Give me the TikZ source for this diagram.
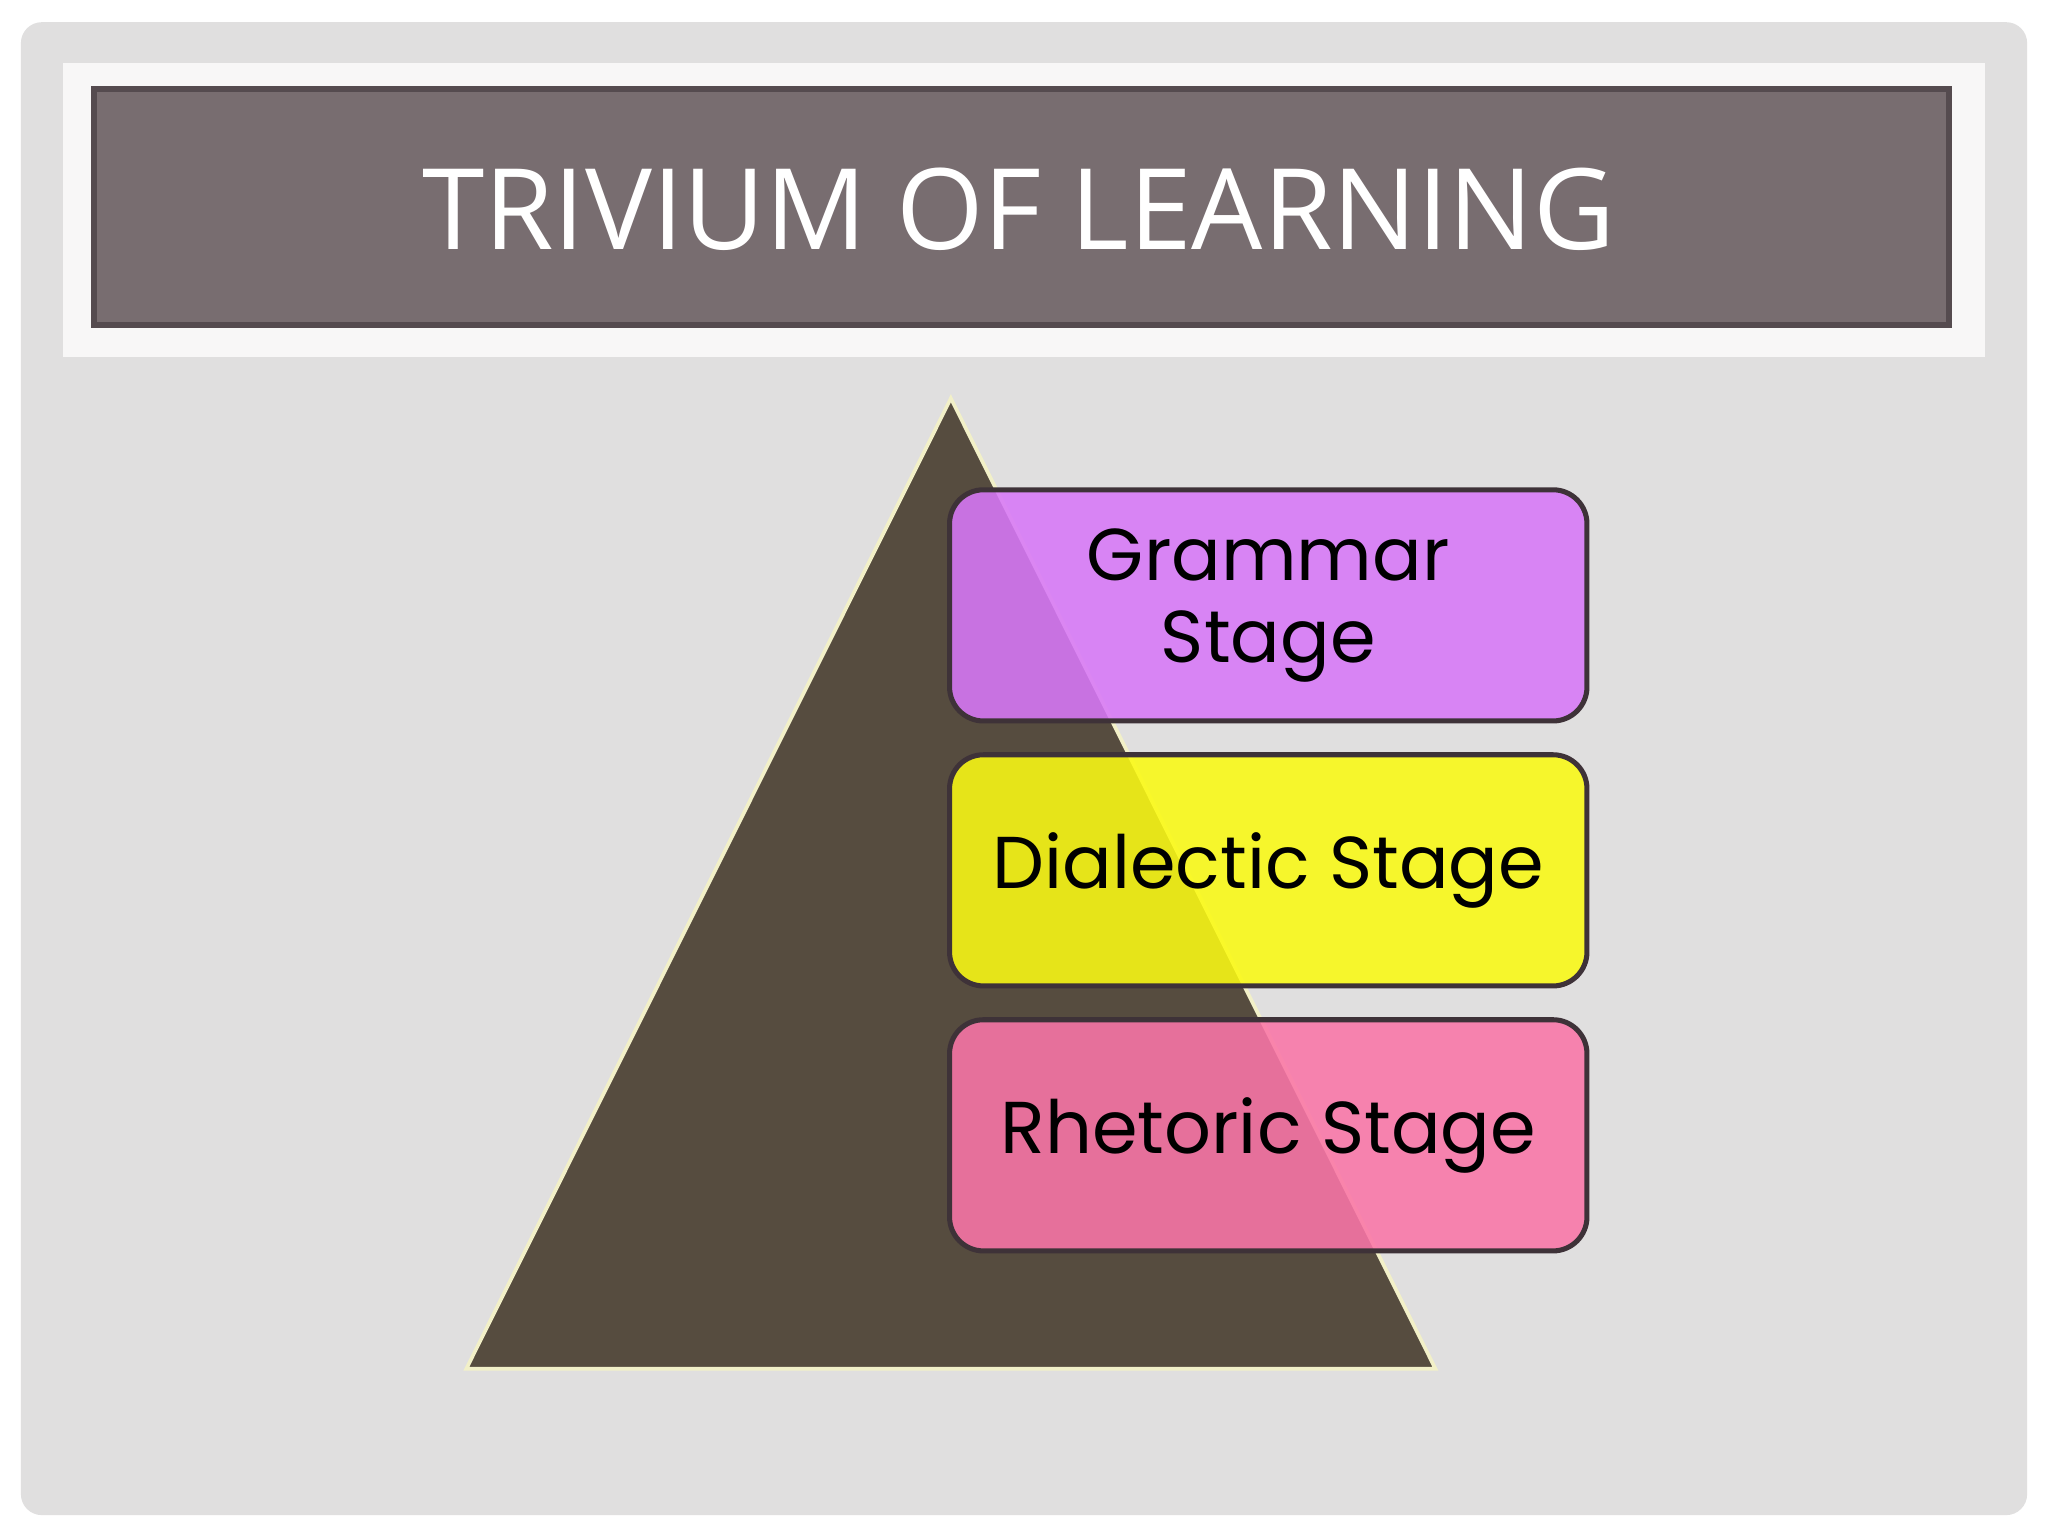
\documentclass[tikz,border=0pt]{standalone}
\usepackage{fontspec}
\setmainfont{Poppins}
\newfontfamily\titlefont{Open Sans}
\usetikzlibrary{positioning}

\definecolor{panelgray}{HTML}{E0DFDF}
\definecolor{framewhite}{HTML}{F8F7F7}
\definecolor{titlefill}{HTML}{786D70}
\definecolor{titleline}{HTML}{554B4F}
\definecolor{pyramid}{HTML}{564C3F}
\definecolor{pyrline}{HTML}{F2F0C8}
\definecolor{grammarc}{HTML}{D878F8}
\definecolor{dialectc}{HTML}{FAFA14}
\definecolor{rhetoricc}{HTML}{FA76A8}
\definecolor{boxline}{HTML}{3E3238}

\tikzset{
  stagebox/.style={draw=boxline, line width=1.1pt, rounded corners=0.26cm,
    minimum width=4.88cm, minimum height=1.77cm, fill opacity=0.88,
    text opacity=1, align=center, inner sep=0pt,
    font=\fontsize{16}{18}\selectfont},
}

\begin{document}
\begin{tikzpicture}
% page and panel
\useasboundingbox (0,0) rectangle (15.68,-11.76);
\fill[white] (0,0) rectangle (15.68,-11.76);
\fill[panelgray, rounded corners=0.16cm] (0.16,-0.17) rectangle (15.52,-11.60);
\fill[framewhite] (0.48,-0.48) rectangle (15.20,-2.73);

% title bar
\draw[titleline, line width=1.2pt, fill=titlefill] (0.72,-0.68) rectangle (14.92,-2.49);
\node[text=white, font=\titlefont\fontsize{24.5}{28}\selectfont] (title) at (7.80,-1.60) {TRIVIUM OF LEARNING};

% pyramid
\coordinate (apex) at (7.28,-3.05);
\coordinate (baseL) at (3.57,-10.48);
\coordinate (baseR) at (10.99,-10.48);
\draw[pyrline, line width=0.8pt, fill=pyramid] (apex) -- (baseR) -- (baseL) -- cycle;

% stages
\node[stagebox, fill=grammarc] (grammar) at (9.71,-4.635) {Grammar\\Stage};
\node[stagebox, fill=dialectc, below=0.22cm of grammar] (dialectic) {Dialectic Stage};
\node[stagebox, fill=rhetoricc, below=0.22cm of dialectic] (rhetoric) {Rhetoric Stage};
\end{tikzpicture}
\end{document}
